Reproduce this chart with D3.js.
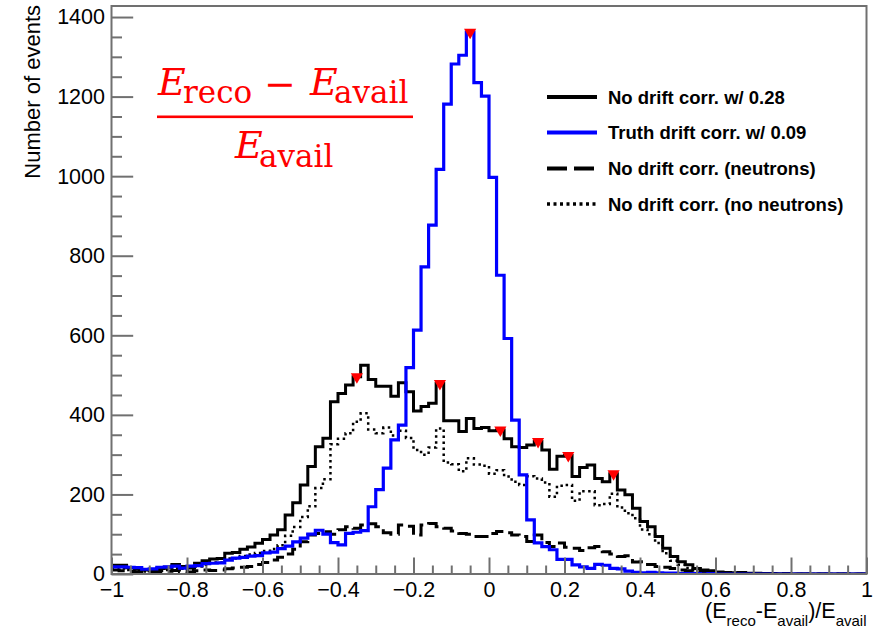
<!DOCTYPE html>
<html>
<head>
<meta charset="utf-8">
<script src="https://cdn.jsdelivr.net/npm/d3@7"></script>
<style>
  html, body { margin: 0; padding: 0; background: #fff; }
  svg { display: block; }
  .tick text { font-family: "Liberation Sans", Arial, Helvetica, sans-serif; font-size: 21.5px; fill: #000; }
</style>
</head>
<body>
<svg id="chart" width="874" height="631"></svg>
<script>
// Histogram binning: 100 bins of width 0.02 over [-1, 1]
const binLow = -1, binHigh = 1, nBins = 100;

// No drift correction, resolution 0.28 (sum of the two samples below)
const noDriftCorr = [
  22, 22, 16, 12, 10, 11, 14, 17, 24, 19,
  15, 27, 33, 38, 39, 52, 54, 62, 68, 77,
  87, 98, 111, 148, 179, 224, 270, 320, 341, 433,
  454, 475, 496, 525, 489, 472, 472, 447, 481, 458,
  410, 421, 429, 479, 385, 385, 358, 391, 366, 368,
  360, 362, 340, 320, 318, 324, 333, 312, 263, 296,
  298, 245, 268, 274, 240, 232, 252, 211, 199, 165,
  132, 119, 94, 65, 44, 31, 23, 14, 10, 8,
  5, 4, 3, 4, 2, 2, 1, 1, 0, 1,
  0, 0, 0, 0, 0, 0, 0, 0, 0, 0
];

// Truth drift correction, resolution 0.09
const truthDriftCorr = [
  18, 18, 17, 16, 12, 13, 17, 18, 20, 15,
  20, 21, 26, 27, 28, 35, 40, 42, 45, 46,
  53, 55, 64, 70, 81, 90, 100, 110, 100, 79,
  73, 102, 105, 109, 169, 212, 266, 337, 374, 519,
  613, 772, 877, 1017, 1181, 1282, 1304, 1362, 1235, 1201,
  997, 751, 592, 387, 249, 136, 78, 69, 61, 37,
  37, 23, 18, 14, 24, 22, 14, 13, 7, 4,
  3, 4, 3, 2, 2, 1, 1, 1, 0, 1,
  0, 0, 0, 0, 0, 0, 0, 0, 0, 0,
  0, 0, 0, 0, 0, 0, 0, 0, 0, 0
];

// No drift correction, events with neutrons
const noDriftNeutrons = [
  10, 8, 6, 5, 4, 5, 6, 7, 9, 6,
  5, 8, 10, 9, 10, 13, 15, 17, 19, 24,
  29, 35, 42, 50, 62, 81, 98, 102, 106, 100,
  111, 119, 115, 123, 126, 119, 104, 100, 123, 120,
  98, 123, 127, 119, 115, 108, 102, 100, 94, 94,
  102, 107, 104, 98, 94, 82, 98, 79, 69, 78,
  67, 65, 59, 66, 69, 56, 50, 44, 46, 30,
  31, 24, 19, 17, 14, 10, 8, 5, 4, 3,
  2, 1, 1, 1, 1, 0, 0, 0, 0, 0,
  0, 0, 0, 0, 0, 0, 0, 0, 0, 0
];

// No drift correction, events without neutrons
const noDriftNoNeutrons = [
  12, 14, 10, 7, 6, 6, 8, 10, 15, 13,
  10, 19, 23, 29, 29, 39, 39, 45, 49, 53,
  58, 63, 72, 96, 118, 143, 170, 216, 238, 326,
  340, 354, 383, 404, 363, 354, 368, 348, 360, 342,
  312, 300, 318, 366, 280, 276, 258, 291, 275, 272,
  252, 261, 245, 232, 224, 246, 240, 230, 194, 222,
  224, 184, 208, 208, 173, 176, 202, 167, 153, 140,
  112, 100, 78, 52, 33, 23, 15, 9, 6, 5,
  3, 3, 2, 2, 1, 1, 1, 0, 0, 0,
  0, 0, 0, 0, 0, 0, 0, 0, 0, 0
];

// Peak positions found on the histograms (bin centres)
const noDriftPeaks = [-0.35, -0.13, 0.03, 0.13, 0.21, 0.33];
const truthPeaks = [-0.05];

// Axis ticks
const xTicks = [-1, -0.8, -0.6, -0.4, -0.2, 0, 0.2, 0.4, 0.6, 0.8, 1];
const yTicks = [0, 200, 400, 600, 800, 1000, 1200, 1400];

const legendLabels = [
  "No drift corr. w/ 0.28",
  "Truth drift corr. w/ 0.09",
  "No drift corr. (neutrons)",
  "No drift corr. (no neutrons)"
];

const svg = d3.select("#chart");
const sans = '"Liberation Sans", Arial, Helvetica, sans-serif';
const frameColor = "#707070";

const plot = { left: 111.5, right: 866.5, top: 5.1, bottom: 574 };
const x = d3.scaleLinear().domain([binLow, binHigh]).range([plot.left, plot.right]);
const y = d3.scaleLinear().domain([0, 1430]).range([plot.bottom, plot.top]);

svg.append("rect").attr("width", 874).attr("height", 631).attr("fill", "#fff");

const binWidth = (binHigh - binLow) / nBins;
function stepPoints(values) {
  const pts = [];
  values.forEach((v, i) => {
    const x0 = binLow + i * binWidth, x1 = x0 + binWidth;
    pts.push([x0, v], [x1, v]);
  });
  return pts;
}
const line = d3.line().x(d => x(d[0])).y(d => y(d[1]));

const series = [
  { values: noDriftCorr, color: "#000", width: 3, dash: null },
  { values: truthDriftCorr, color: "#0000ff", width: 3.2, dash: null },
  { values: noDriftNeutrons, color: "#000", width: 3, dash: "14,6" },
  { values: noDriftNoNeutrons, color: "#000", width: 2.5, dash: "2.5,3.5" }
];

svg.append("clipPath").attr("id", "plotclip")
  .append("rect").attr("x", plot.left).attr("y", plot.top)
  .attr("width", plot.right - plot.left).attr("height", plot.bottom - plot.top);

const gHist = svg.append("g").attr("clip-path", "url(#plotclip)");
// draw order: dotted, dashed, solid, blue
[3, 2, 0, 1].forEach(idx => {
  const s = series[idx];
  gHist.append("path")
    .attr("d", line(stepPoints(s.values)))
    .attr("fill", "none")
    .attr("stroke", s.color)
    .attr("stroke-width", s.width)
    .attr("stroke-linejoin", "miter")
    .attr("stroke-dasharray", s.dash);
});

// Axes with inward ticks
const yMinor = d3.range(0, 1430, 50).filter(v => v % 200 !== 0);
const xMinor = d3.range(-100, 101, 5).filter(v => v % 20 !== 0).map(v => v / 100);

const gy = svg.append("g").attr("transform", `translate(${plot.left},0)`);
gy.call(d3.axisLeft(y).tickValues(yTicks).tickSizeInner(-21.7).tickSizeOuter(0).tickPadding(6.5).tickFormat(d3.format("d")));
gy.append("g").call(d3.axisLeft(y).tickValues(yMinor).tickSizeInner(-10.5).tickSizeOuter(0).tickFormat(""));
gy.selectAll(".domain").remove();
gy.selectAll("line").attr("stroke", frameColor).attr("stroke-width", 2);
gy.selectAll(".tick text").filter(d => d === 0).attr("dy", "0.28em");

const gx = svg.append("g").attr("transform", `translate(0,${plot.bottom})`);
gx.call(d3.axisBottom(x).tickValues(xTicks).tickSizeInner(-16.5).tickSizeOuter(0).tickPadding(8).tickFormat(d3.format("~g")));
gx.append("g").call(d3.axisBottom(x).tickValues(xMinor).tickSizeInner(-8.5).tickSizeOuter(0).tickFormat(""));
gx.selectAll(".domain").remove();
gx.selectAll("line").attr("stroke", frameColor).attr("stroke-width", 2);

// Frame
svg.append("rect")
  .attr("x", plot.left).attr("y", plot.top + 0.9)
  .attr("width", plot.right - plot.left).attr("height", plot.bottom - plot.top - 0.9)
  .attr("fill", "none").attr("stroke", frameColor).attr("stroke-width", 2);

// Peak markers
const tri = d3.symbol().type(d3.symbolTriangle).size(64);
function peakBin(xv) { return Math.round((xv - binLow) / binWidth - 0.5); }
const markers = noDriftPeaks.map(p => [p, noDriftCorr[peakBin(p)]])
  .concat(truthPeaks.map(p => [p, truthDriftCorr[peakBin(p)]]));
svg.append("g").selectAll("path").data(markers).join("path")
  .attr("d", tri)
  .attr("transform", d => `translate(${x(d[0])},${y(d[1])}) rotate(180)`)
  .attr("fill", "#ff0000");

// Axis titles
svg.append("text")
  .attr("transform", "translate(39.5,5) rotate(-90)")
  .attr("text-anchor", "end")
  .attr("font-family", sans).attr("font-size", 22)
  .text("Number of events");

const xt = svg.append("text")
  .attr("x", plot.right).attr("y", 618)
  .attr("text-anchor", "end")
  .attr("font-family", sans).attr("font-size", 21.5);
xt.append("tspan").text("(E");
xt.append("tspan").attr("font-size", 15).attr("dy", 8).text("reco");
xt.append("tspan").attr("dy", -8).text("-E");
xt.append("tspan").attr("font-size", 15).attr("dy", 8).text("avail");
xt.append("tspan").attr("dy", -8).text(")/E");
xt.append("tspan").attr("font-size", 15).attr("dy", 8).text("avail");

// Legend
const legendStyles = [
  { color: "#000", width: 4, dash: null },
  { color: "#0000ff", width: 4, dash: null },
  { color: "#000", width: 4, dash: "20,7" },
  { color: "#000", width: 3.5, dash: "3,3.5" }
];
const legendBaselines = [103.5, 139, 175, 210.5];
const gLeg = svg.append("g");
legendLabels.forEach((label, i) => {
  const st = legendStyles[i];
  const cy = legendBaselines[i] - 6.6;
  gLeg.append("line")
    .attr("x1", 547).attr("x2", 597).attr("y1", cy).attr("y2", cy)
    .attr("stroke", st.color).attr("stroke-width", st.width)
    .attr("stroke-dasharray", st.dash);
  gLeg.append("text")
    .attr("x", 608).attr("y", legendBaselines[i])
    .attr("font-family", sans).attr("font-weight", "bold").attr("font-size", 18.5)
    .text(label);
});

// Red formula: (E_reco - E_avail) / E_avail
const red = "#ff0000";
const serif = '"DejaVu Serif", "Liberation Serif", serif';
const gF = svg.append("g").attr("fill", red).attr("font-family", serif);
function italicE(xp, yp) {
  gF.append("text").attr("x", xp).attr("y", yp).attr("font-size", 38).attr("font-style", "italic").text("E");
}
function sub(xp, yp, t) {
  gF.append("text").attr("x", xp).attr("y", yp).attr("font-size", 31).text(t);
}
italicE(158, 95);
sub(183, 103, "reco");
gF.append("text").attr("x", 264).attr("y", 97).attr("font-size", 38).text("\u2212");
italicE(310, 95);
sub(334, 103, "avail");
gF.append("rect").attr("x", 157).attr("y", 115.5).attr("width", 256).attr("height", 2.6);
italicE(235, 158);
sub(259, 166.5, "avail");
</script>
</body>
</html>
